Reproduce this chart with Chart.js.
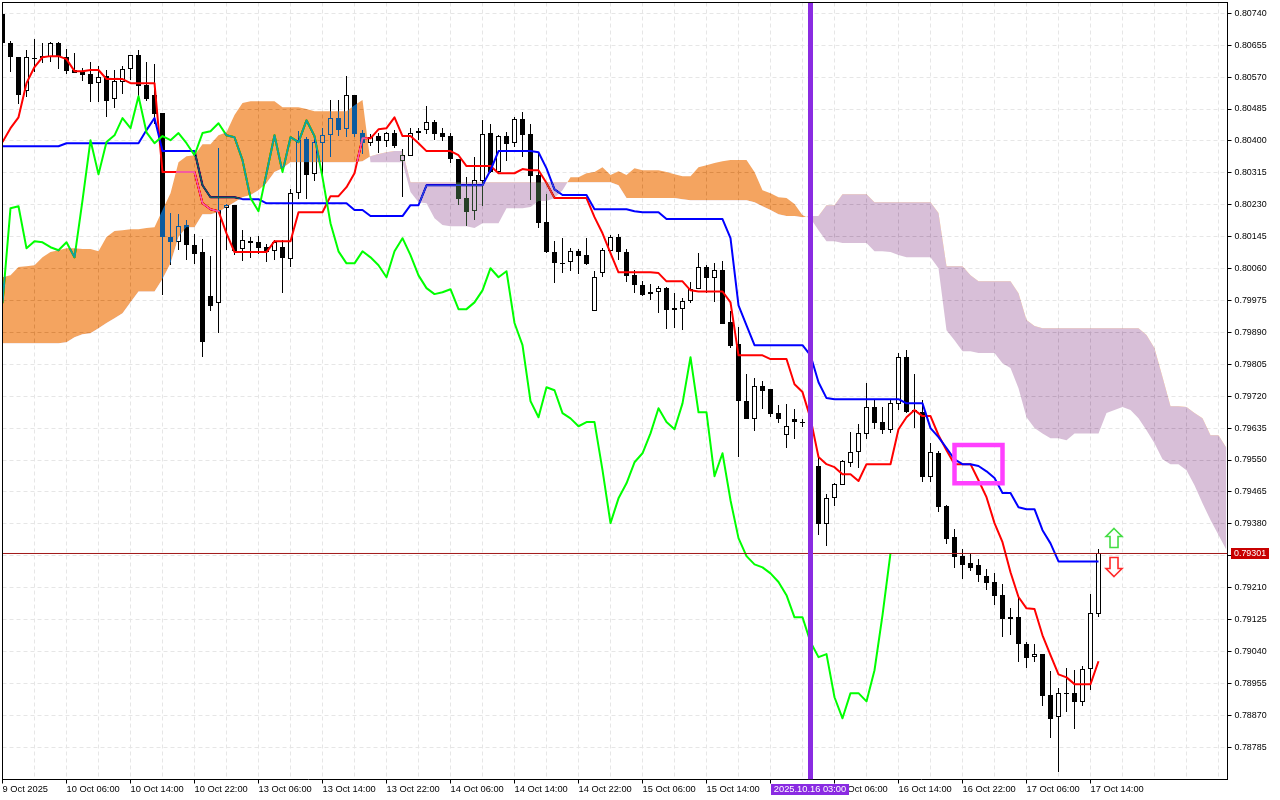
<!DOCTYPE html>
<html><head><meta charset="utf-8">
<style>html,body{margin:0;padding:0;background:#fff}canvas{display:block}</style>
<script src="https://cdn.jsdelivr.net/npm/chart.js@4"></script></head>
<body><canvas id="c" width="1280" height="800"></canvas>
<script>
// All prices are in points (1 point = 0.00001)
const opens=[80738,80660,80623,80533,80622,80626,80623,80660,80623,80589,
80583,80578,80554,80573,80511,80557,80591,80628,80549,80522,
80474,80144,80130,80176,80122,80104,79986,79968,80221,80229,
80112,80133,80130,80117,80106,80117,80085,80261,80405,80311,
80394,80415,80461,80431,80522,80421,80394,80413,80399,80421,
80346,80359,80421,80429,80450,80421,80413,80351,80248,80213,
80293,80421,80317,80413,80394,80458,80418,80309,80184,80104,
80074,80077,80106,80096,79946,80048,80106,80144,80104,80042,
80016,79992,79997,80008,79954,79952,79973,80005,80064,80034,
80056,79917,79859,79707,79659,79747,79739,79675,79616,79659,
79651,79648,79534,79379,79448,79483,79541,79571,79619,79691,
79651,79629,79699,79824,79683,79677,79504,79568,79427,79344,
79294,79275,79270,79241,79225,79190,79131,79131,79059,79025,
79033,78923,78865,78929,78929,78905,78993,79139];
const highs=[80738,80666,80623,80642,80671,80660,80663,80663,80644,80634,
80594,80610,80599,80589,80589,80599,80628,80642,80610,80604,
80474,80208,80205,80189,80152,80138,80093,80381,80232,80229,
80162,80144,80146,80125,80136,80136,80271,80426,80410,80410,
80434,80509,80509,80573,80522,80429,80418,80421,80423,80429,
80378,80434,80434,80493,80455,80434,80421,80351,80303,80357,
80455,80445,80415,80423,80463,80477,80445,80370,80258,80133,
80141,80114,80112,80141,80053,80114,80149,80152,80112,80056,
80026,80018,80013,80010,79994,79981,80024,80101,80069,80074,
80080,79946,79904,79779,79768,79760,79739,79696,79699,79685,
79659,79656,79558,79459,79488,79550,79624,79645,79755,79709,
79691,79712,79835,79843,79779,79709,79595,79574,79430,79366,
79312,79302,79286,79259,79249,79219,79155,79185,79065,79059,
79033,78987,78942,78995,78990,79001,79193,79312];
const lows=[80660,80583,80498,80517,80583,80607,80610,80591,80578,80581,
80559,80503,80503,80463,80487,80525,80562,80509,80506,80445,
79989,80069,80109,80082,80072,79824,79947,79888,80109,80096,
80080,80088,80098,80077,80082,79994,80064,80245,80245,80293,
80309,80357,80413,80410,80410,80365,80386,80367,80383,80381,
80250,80359,80402,80418,80402,80399,80341,80229,80173,80189,
80226,80314,80314,80346,80383,80357,80242,80168,80101,80021,
80048,80053,80045,80069,79946,80037,80101,80082,80024,79994,
79986,79976,79941,79899,79901,79896,79968,80005,79994,79970,
79912,79848,79558,79659,79627,79685,79664,79648,79582,79605,
79637,79603,79350,79320,79427,79483,79531,79528,79605,79632,
79619,79621,79683,79675,79635,79491,79491,79411,79326,79262,
79233,79254,79225,79203,79163,79078,79083,79011,78995,79011,
78894,78809,78718,78878,78833,78894,78937,79131];
const closes=[80660,80623,80522,80623,80618,80620,80660,80626,80586,80581,
80575,80551,80570,80506,80559,80591,80628,80546,80511,80471,
80144,80130,80173,80122,80098,79864,79960,80216,80229,80106,
80136,80128,80114,80104,80130,80088,80261,80402,80309,80397,
80415,80461,80429,80522,80418,80394,80410,80399,80421,80386,
80362,80421,80426,80450,80418,80410,80351,80245,80210,80295,
80418,80317,80413,80391,80458,80415,80306,80181,80104,80074,
80072,80106,80093,80072,80037,80109,80144,80104,80040,80016,
79989,79997,80008,79949,79949,79973,80005,80064,80034,80056,
79912,79853,79707,79659,79747,79733,79672,79659,79640,79651,
79648,79637,79379,79448,79486,79547,79571,79621,79691,79648,
79629,79701,79824,79677,79680,79504,79571,79424,79339,79291,
79270,79262,79243,79222,79187,79126,79126,79059,79022,79033,
78921,78860,78929,78926,78905,78993,79142,79301];
const tenkan=[80397,80434,80463,80554,80597,80623,80626,80626,80618,80586,
80586,80589,80589,80565,80565,80565,80554,80554,80554,80554,
80317,80317,80317,80317,80317,80234,80218,80213,80154,80104,
80104,80104,80104,80104,80133,80133,80133,80210,80210,80210,
80210,80253,80253,80277,80314,80407,80407,80431,80434,80463,
80413,80413,80394,80373,80373,80373,80373,80362,80333,80333,
80333,80333,80314,80314,80314,80325,80322,80322,80288,80248,
80248,80248,80248,80248,80197,80154,80101,80050,80050,80050,
80050,80050,80048,80026,80026,80026,80002,79999,79999,79999,
79999,79970,79829,79829,79829,79829,79819,79819,79819,79752,
79731,79661,79558,79539,79531,79512,79512,79494,79539,79539,
79539,79539,79632,79664,79683,79667,79667,79616,79576,79539,
79539,79539,79496,79451,79382,79331,79251,79185,79155,79153,
79083,79030,78979,78971,78953,78953,78953,79014];
const kijun=[80386,80386,80386,80386,80386,80386,80386,80386,80394,80394,
80394,80394,80394,80394,80394,80394,80394,80394,80429,80461,
80373,80373,80373,80373,80373,80282,80250,80250,80250,80250,
80245,80245,80245,80234,80234,80234,80234,80234,80234,80234,
80234,80234,80234,80234,80216,80216,80200,80200,80200,80200,
80200,80229,80229,80282,80282,80282,80282,80282,80282,80282,
80282,80322,80373,80373,80373,80373,80373,80370,80327,80271,
80256,80256,80256,80256,80218,80218,80218,80218,80218,80213,
80210,80210,80210,80192,80192,80192,80192,80192,80192,80192,
80192,80141,79962,79909,79856,79856,79856,79856,79856,79856,
79856,79829,79757,79715,79712,79712,79712,79712,79712,79712,
79712,79712,79712,79701,79701,79701,79635,79611,79582,79552,
79539,79539,79534,79520,79502,79462,79462,79424,79419,79419,
79363,79328,79280,79280,79280,79280,79280,79280];
const chikou=[79968,80221,80226,80114,80133,80130,80117,80109,80130,80090,
80242,80402,80311,80397,80415,80461,80434,80519,80423,80394,
80413,80402,80421,80394,80362,80421,80426,80447,80415,80410,
80349,80248,80213,80314,80415,80317,80410,80397,80455,80413,
80303,80181,80106,80074,80074,80106,80090,80069,80037,80106,
80141,80096,80042,80008,79992,79997,80005,79952,79952,79970,
80002,80061,80037,80053,79915,79856,79707,79664,79744,79736,
79675,79661,79640,79651,79651,79523,79382,79448,79488,79544,
79568,79621,79688,79651,79632,79701,79824,79677,79677,79507,
79568,79443,79342,79294,79272,79264,79248,79225,79190,79131,
79131,79065,79025,79033,78918,78862,78929,78929,78907,78990,
79137,79302];
const spanA=[80037,80042,80064,80066,80069,80090,80104,80109,80114,80114,
80112,80112,80106,80144,80160,80162,80165,80165,80168,80170,
80216,80261,80343,80359,80362,80391,80391,80415,80423,80469,
80501,80506,80506,80506,80506,80490,80490,80490,80485,80479,
80479,80479,80479,80479,80495,80509,80343,80343,80343,80343,
80343,80264,80237,80234,80194,80176,80173,80173,80173,80168,
80181,80181,80181,80221,80221,80221,80224,80240,80240,80248,
80269,80303,80303,80314,80317,80330,80309,80319,80309,80327,
80322,80322,80322,80317,80311,80306,80306,80330,80335,80341,
80346,80349,80349,80349,80317,80269,80261,80250,80248,80232,
80202,80194,80162,80133,80133,80128,80128,80128,80128,80106,
80106,80104,80096,80090,80090,80090,80090,80061,79896,79869,
79840,79840,79835,79835,79835,79808,79795,79741,79664,79635,
79621,79608,79608,79603,79621,79621,79621,79621,79675,79683,
79691,79683,79661,79629,79595,79552,79539,79539,79523,79483,
79435,79390,79350,79310];
const spanB=[79861,79861,79861,79861,79861,79861,79861,79861,79864,79877,
79885,79888,79901,79915,79928,79941,79970,79999,79999,79999,
80032,80074,80144,80170,80170,80205,80205,80210,80224,80237,
80250,80256,80269,80288,80317,80327,80343,80343,80343,80343,
80343,80343,80343,80343,80343,80346,80359,80365,80370,80373,
80373,80290,80290,80290,80290,80290,80290,80290,80290,80290,
80290,80290,80290,80290,80290,80290,80290,80290,80290,80290,
80290,80290,80290,80290,80290,80290,80290,80282,80248,80248,
80248,80248,80248,80248,80248,80245,80242,80242,80242,80242,
80242,80242,80242,80242,80237,80226,80216,80205,80200,80200,
80197,80200,80200,80229,80229,80258,80258,80258,80258,80237,
80237,80237,80237,80237,80237,80237,80237,80208,80066,80066,
80066,80042,80026,80026,80026,80026,80026,79994,79923,79907,
79901,79901,79901,79901,79901,79901,79901,79901,79901,79901,
79901,79901,79901,79883,79848,79771,79693,79693,79691,79675,
79661,79616,79616,79582];
const priceTicks=[80740,80655,80570,80485,80400,80315,80230,80145,80060,79975,79890,79805,
79720,79635,79550,79465,79380,79295,79210,79125,79040,78955,78870,78785];
const timeLabels=["9 Oct 2025","10 Oct 06:00","10 Oct 14:00","10 Oct 22:00","13 Oct 06:00","13 Oct 14:00",
"13 Oct 22:00","14 Oct 06:00","14 Oct 14:00","14 Oct 22:00","15 Oct 06:00","15 Oct 14:00",
"15 Oct 22:00","16 Oct 06:00","16 Oct 14:00","16 Oct 22:00","17 Oct 06:00","17 Oct 14:00"];
const lastPrice=79301, markerBar=101, markerText="2025.10.16 03:00";
const boxBars=[119,125,125,119,119], boxPrices=[79590,79590,79488,79488,79590];
const arrowUpPrice=79368, arrowDownPrice=79240, arrowBar=138.94;

const Y_MIN=78698.93, Y_MAX=80768.86, X_MAX=153.125;
const FONT={family:"'Liberation Sans', Arial, sans-serif",size:9.3};
const YFONT={family:FONT.family,size:8.9};
const fmt=v=>(v/1e5).toFixed(5);
const series=a=>a.map((v,i)=>({x:i,y:v}));
const line=(label,vals,color,order)=>({type:'line',label,data:series(vals),borderColor:color,borderWidth:2,pointRadius:0,tension:0,order,fill:false,borderJoinStyle:'round'});
const barBase={type:'bar',grouped:false,borderSkipped:false,inflateAmount:0};

const datasets=[
 {...barBase,label:'wick',data:highs.map((h,i)=>({x:i,y:[lows[i],h]})),barThickness:1,backgroundColor:'#000',borderWidth:0,order:10},
 {...barBase,label:'body',data:opens.map((o,i)=>({x:i,y:[Math.min(o,closes[i]),Math.max(o,closes[i])]})),barThickness:5,
  backgroundColor:opens.map((o,i)=>closes[i]>=o?'#fff':'#000'),borderColor:'#000',borderWidth:1,order:9},
 line('Tenkan',tenkan,'#ff0000',8),
 line('Kijun',kijun,'#0000ff',7),
 line('Chikou',chikou,'#00ff00',6),
 {type:'line',label:'Last',data:[{x:0,y:lastPrice},{x:X_MAX,y:lastPrice}],borderColor:'#a01818',borderWidth:1,pointRadius:0,order:5,fill:false},
 {type:'line',label:'Span A',data:series(spanA),borderWidth:0,borderColor:'transparent',pointRadius:0,tension:0,order:3,
  fill:{target:'+1',above:'#0b5b9f',below:'#274027'}},
 {type:'line',label:'Span B',data:series(spanB),borderWidth:0,borderColor:'transparent',pointRadius:0,tension:0,order:4,fill:false},
 {...barBase,label:'Marker',data:[{x:markerBar,y:[Y_MIN,Y_MAX]}],barThickness:5,backgroundColor:'#8a2be2',borderWidth:0,order:2},
 {type:'line',label:'Box',data:boxBars.map((b,i)=>({x:b,y:boxPrices[i]})),borderColor:'#ff40ff',borderWidth:4.5,pointRadius:0,tension:0,
  borderJoinStyle:'miter',borderCapStyle:'square',order:1,fill:false},
];
const iA=datasets.findIndex(d=>d.label==='Span A'), iB=datasets.findIndex(d=>d.label==='Span B');

const ichimokuBlend={id:'ichimokuBlend',
 afterDatasetsUpdate(chart){
  // snap candle edges to whole pixels so they stay crisp
  [0,1].forEach(k=>chart.getDatasetMeta(k).data.forEach(el=>{
    el.y=Math.round(el.y);el.base=Math.round(el.base);
    if(el.base===el.y)el.base=el.y+1;
  }));
 },
 afterDatasetDraw(chart,args){
  if(args.index===iB) chart.ctx.globalCompositeOperation='difference';
  if(args.index===iA) chart.ctx.globalCompositeOperation='source-over';
 }};
const decor={id:'decor',
 beforeDraw(chart){const c=chart.ctx;c.save();c.fillStyle='#fff';c.fillRect(0,0,chart.width,chart.height);c.restore();},
 afterDraw(chart){
  const c=chart.ctx,{left,top,right,bottom}=chart.chartArea,xs=chart.scales.x,ys=chart.scales.y;
  c.save();
  c.fillStyle='#000';
  c.fillRect(Math.floor(left),Math.floor(top),Math.ceil(right-left),1);
  c.fillRect(Math.floor(left),Math.floor(top),1,Math.ceil(bottom-top));
  // arrows
  const arrow=(price,dir,col)=>{
    const x=xs.getPixelForValue(arrowBar),y=Math.round(ys.getPixelForValue(price))+.5;
    const pts=[[0,0],[8,8],[4,8],[4,19],[-4,19],[-4,8],[-8,8]];
    c.beginPath();pts.forEach((p,i)=>{const X=x+p[0],Y=y+dir*p[1];i?c.lineTo(X,Y):c.moveTo(X,Y);});c.closePath();
    c.fillStyle='#fff';c.fill();c.strokeStyle=col;c.lineWidth=1.6;c.lineJoin='miter';c.stroke();
  };
  arrow(arrowUpPrice,1,'#44dd44');
  arrow(arrowDownPrice,-1,'#ff2a2a');
  // last price tag
  c.font=`${YFONT.size}px ${YFONT.family}`;c.textBaseline='middle';c.textAlign='left';
  const ly=Math.round(ys.getPixelForValue(lastPrice));
  c.fillStyle='#c80000';c.fillRect(1231,ly-5,38,11);
  c.fillStyle='#fff';c.fillText(fmt(lastPrice),1234,ly+.5);
  // marker time tag
  c.font=`${FONT.size}px ${FONT.family}`;
  const mx=xs.getPixelForValue(markerBar);
  c.fillStyle='#8a2be2';c.fillRect(mx-39.5,784,78,11);
  c.fillStyle='#fff';c.textAlign='center';c.fillText(markerText,mx-.5,789.5);
  c.restore();
 }};

new Chart(document.getElementById('c'),{
 type:'bar',
 data:{datasets},
 plugins:[ichimokuBlend,decor],
 options:{
  responsive:false,animation:false,devicePixelRatio:1,
  layout:{padding:{left:2.5,top:2.5,right:0,bottom:0}},
  plugins:{legend:{display:false},tooltip:{enabled:false},title:{display:false}},
  scales:{
   x:{type:'linear',position:'bottom',min:0,max:X_MAX,offset:false,
    grid:{offset:false,color:'#e6e6e6',lineWidth:1,tickLength:4,tickColor:c=>c.tick&&c.tick.value%8===0&&c.tick.value<=136?'#000':'rgba(0,0,0,0)'},
    border:{display:true,color:'#000',width:1,dash:[4,3]},
    afterBuildTicks(s){const t=[];for(let v=0;v<=152;v+=4)t.push({value:v});s.ticks=t;},
    afterFit(s){s.height=20.5;s.paddingLeft=0;s.paddingRight=0;s.paddingTop=0;s.paddingBottom=0;},
    ticks:{autoSkip:false,maxRotation:0,minRotation:0,align:'start',padding:0,color:'#000',font:FONT,
     callback:v=>v%8===0?(timeLabels[v/8]||''):''}},
   y:{type:'linear',position:'right',min:Y_MIN,max:Y_MAX,
    grid:{color:'#e6e6e6',lineWidth:1,tickLength:4,tickColor:'#000'},
    border:{display:true,color:'#000',width:1,dash:[4,3]},
    afterBuildTicks(s){s.ticks=priceTicks.map(v=>({value:v}));},
    afterFit(s){s.width=52.5;s.paddingLeft=0;s.paddingRight=0;s.paddingTop=0;s.paddingBottom=0;},
    ticks:{autoSkip:false,padding:3,color:'#000',font:YFONT,callback:v=>fmt(v)}}
  }
 }
});
</script></body></html>
